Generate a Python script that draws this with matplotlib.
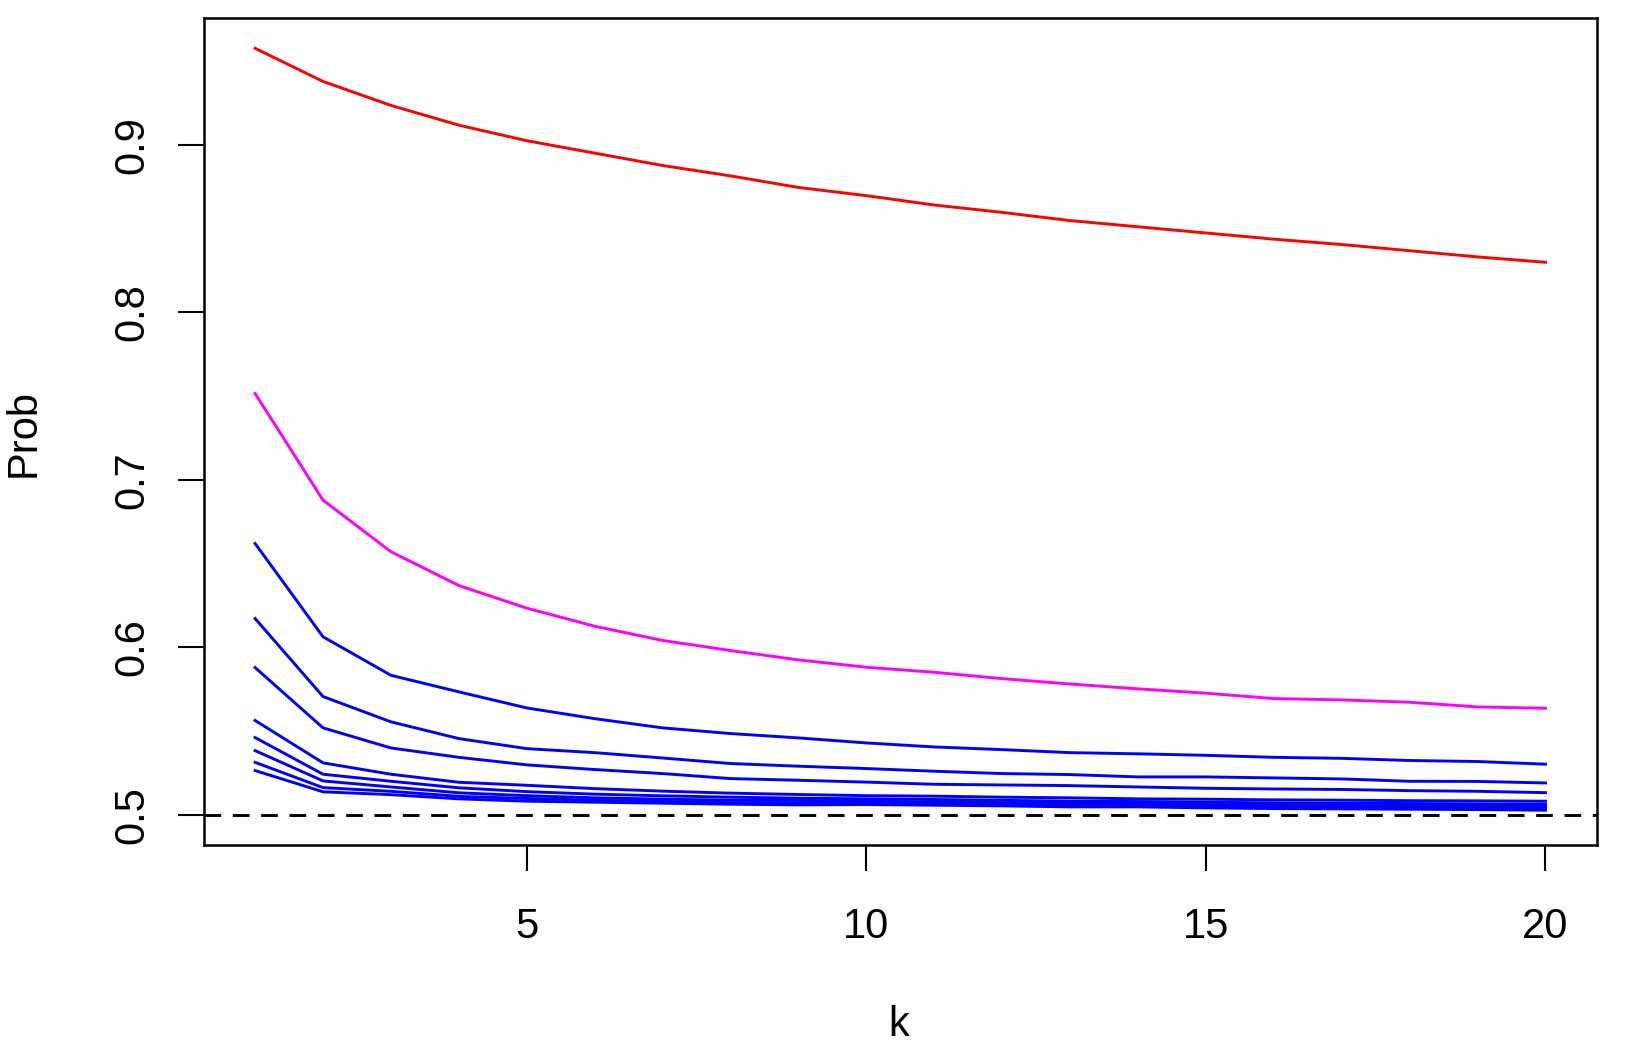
import matplotlib
matplotlib.use("Agg")
import matplotlib.pyplot as plt
import numpy as np

plt.rcParams['font.family'] = ['Liberation Sans', 'DejaVu Sans']
plt.rcParams['lines.scale_dashes'] = False

k = list(range(1, 21))

red = [0.9577, 0.9379, 0.9236, 0.9118, 0.9025, 0.8951, 0.8877, 0.8815, 0.8746, 0.8697,
       0.8641, 0.8597, 0.8548, 0.8511, 0.8474, 0.8437, 0.8405, 0.8368, 0.8331, 0.8299]
magenta = [0.7515, 0.6878, 0.6570, 0.6368, 0.6233, 0.6125, 0.6040, 0.5980, 0.5924, 0.5880,
           0.5850, 0.5812, 0.5780, 0.5751, 0.5725, 0.5693, 0.5685, 0.5671, 0.5643, 0.5635]
blue1 = [0.6619, 0.6062, 0.5832, 0.5733, 0.5637, 0.5573, 0.5518, 0.5484, 0.5458, 0.5428,
         0.5404, 0.5388, 0.5370, 0.5363, 0.5354, 0.5342, 0.5336, 0.5323, 0.5317, 0.5301]
blue2 = [0.6171, 0.5705, 0.5554, 0.5454, 0.5394, 0.5370, 0.5338, 0.5305, 0.5289, 0.5275,
         0.5259, 0.5245, 0.5239, 0.5225, 0.5225, 0.5219, 0.5213, 0.5199, 0.5198, 0.5189]
blue3 = [0.5878, 0.5518, 0.5398, 0.5342, 0.5297, 0.5269, 0.5245, 0.5215, 0.5205, 0.5194,
         0.5181, 0.5177, 0.5173, 0.5165, 0.5157, 0.5153, 0.5150, 0.5143, 0.5139, 0.5131]
blue4 = [0.5562, 0.5309, 0.5241, 0.5193, 0.5175, 0.5155, 0.5140, 0.5128, 0.5120, 0.5113,
         0.5110, 0.5104, 0.5100, 0.5094, 0.5092, 0.5088, 0.5086, 0.5083, 0.5082, 0.5080]
blue5 = [0.5460, 0.5241, 0.5199, 0.5160, 0.5137, 0.5122, 0.5112, 0.5104, 0.5098, 0.5094,
         0.5090, 0.5085, 0.5080, 0.5078, 0.5074, 0.5070, 0.5068, 0.5066, 0.5064, 0.5062]
blue6 = [0.5382, 0.5201, 0.5165, 0.5130, 0.5113, 0.5100, 0.5092, 0.5086, 0.5085, 0.5080,
         0.5076, 0.5072, 0.5068, 0.5066, 0.5060, 0.5058, 0.5055, 0.5052, 0.5051, 0.5050]
blue7 = [0.5312, 0.5161, 0.5139, 0.5109, 0.5096, 0.5086, 0.5078, 0.5072, 0.5070, 0.5068,
         0.5064, 0.5060, 0.5058, 0.5056, 0.5050, 0.5048, 0.5045, 0.5042, 0.5040, 0.5038]
blue8 = [0.5263, 0.5136, 0.5119, 0.5094, 0.5080, 0.5074, 0.5068, 0.5062, 0.5058, 0.5060,
         0.5056, 0.5052, 0.5046, 0.5046, 0.5040, 0.5036, 0.5034, 0.5032, 0.5030, 0.5026]

blues = [blue1, blue2, blue3, blue4, blue5, blue6, blue7, blue8]
ref_level = 0.5
xticks = [5, 10, 15, 20]
yticks = [0.5, 0.6, 0.7, 0.8, 0.9]

fig = plt.figure(figsize=(16.28, 10.58), dpi=100)
ax = fig.add_axes([0.125, 0.2011, 0.856, 0.7822])

lw = 2.1
ax.plot(k, red, color='red', lw=lw)
ax.plot(k, magenta, color='magenta', lw=lw)
for b in blues:
    ax.plot(k, b, color='blue', lw=lw)
ax.axhline(ref_level, color='black', lw=lw, linestyle=(0, (12, 8.4)))

xr = max(k) - min(k)
ax.set_xlim(min(k) - 0.04 * xr, max(k) + 0.04 * xr)
ymin, ymax = ref_level, max(red)
yr = ymax - ymin
ax.set_ylim(ymin - 0.04 * yr, ymax + 0.04 * yr)

ax.set_xticks(xticks)
ax.set_xticklabels([str(v) for v in xticks])
ax.set_yticks(yticks)
ax.set_yticklabels([f"{v:.1f}" for v in yticks])

fs = 30
ax.tick_params(axis='both', which='major', length=18.7, width=1.5, labelsize=fs, direction='out')
ax.tick_params(axis='x', pad=25.5)
ax.tick_params(axis='y', pad=24.8)
for lab in ax.get_yticklabels():
    lab.set_rotation(90)
    lab.set_rotation_mode('anchor')
    lab.set_horizontalalignment('center')
    lab.set_verticalalignment('baseline')

for s in ax.spines.values():
    s.set_linewidth(1.8)

fig.text(899 / 1628, 1 - 1025 / 1058, 'k', fontsize=fs, ha='center', va='center')
fig.text(24 / 1628, 1 - 433 / 1058, 'Prob', fontsize=fs, ha='center', va='center', rotation=90)

fig.savefig('out.png', dpi=100)
